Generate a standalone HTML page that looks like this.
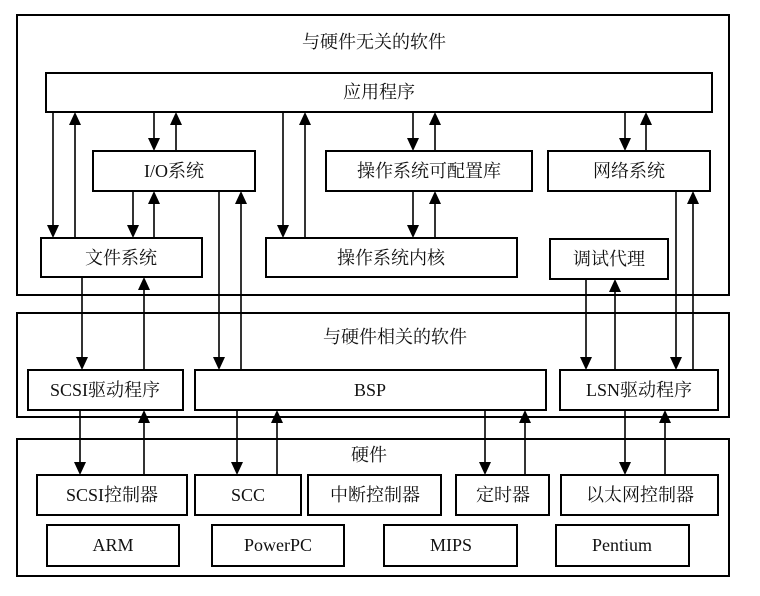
<!DOCTYPE html>
<html><head><meta charset="utf-8"><style>
html,body{margin:0;padding:0;background:#fff;}
svg text{font-family:"Liberation Serif","Noto Serif CJK SC",serif;font-size:18px;fill:#111;text-anchor:middle;dominant-baseline:central;}
</style></head><body>
<svg width="760" height="591" viewBox="0 0 760 591" xmlns="http://www.w3.org/2000/svg">
<g fill="none" stroke="#000" stroke-width="2">
<rect x="17" y="15" width="712" height="280"/>
<rect x="46" y="73" width="666" height="39"/>
<rect x="93" y="151" width="162" height="40"/>
<rect x="41" y="238" width="161" height="39"/>
<rect x="266" y="238" width="251" height="39"/>
<rect x="326" y="151" width="206" height="40"/>
<rect x="548" y="151" width="162" height="40"/>
<rect x="550" y="239" width="118" height="40"/>
<rect x="17" y="313" width="712" height="104"/>
<rect x="28" y="370" width="155" height="40"/>
<rect x="195" y="370" width="351" height="40"/>
<rect x="560" y="370" width="158" height="40"/>
<rect x="17" y="439" width="712" height="137"/>
<rect x="37" y="475" width="150" height="40"/>
<rect x="195" y="475" width="106" height="40"/>
<rect x="308" y="475" width="133" height="40"/>
<rect x="456" y="475" width="93" height="40"/>
<rect x="561" y="475" width="157" height="40"/>
<rect x="47" y="525" width="132" height="41"/>
<rect x="212" y="525" width="132" height="41"/>
<rect x="384" y="525" width="133" height="41"/>
<rect x="556" y="525" width="133" height="41"/>
</g>
<g stroke="#000" stroke-width="1.6">
<line x1="53" y1="112" x2="53" y2="228"/>
<line x1="154" y1="112" x2="154" y2="141"/>
<line x1="133" y1="191" x2="133" y2="228"/>
<line x1="283" y1="112" x2="283" y2="228"/>
<line x1="413" y1="112" x2="413" y2="141"/>
<line x1="413" y1="191" x2="413" y2="228"/>
<line x1="625" y1="112" x2="625" y2="141"/>
<line x1="82" y1="277" x2="82" y2="360"/>
<line x1="219" y1="191" x2="219" y2="360"/>
<line x1="586" y1="279" x2="586" y2="360"/>
<line x1="676" y1="191" x2="676" y2="360"/>
<line x1="80" y1="410" x2="80" y2="465"/>
<line x1="237" y1="410" x2="237" y2="465"/>
<line x1="485" y1="410" x2="485" y2="465"/>
<line x1="625" y1="410" x2="625" y2="465"/>
<line x1="75" y1="238" x2="75" y2="122"/>
<line x1="176" y1="151" x2="176" y2="122"/>
<line x1="154" y1="238" x2="154" y2="201"/>
<line x1="305" y1="238" x2="305" y2="122"/>
<line x1="435" y1="151" x2="435" y2="122"/>
<line x1="435" y1="238" x2="435" y2="201"/>
<line x1="646" y1="151" x2="646" y2="122"/>
<line x1="144" y1="370" x2="144" y2="287"/>
<line x1="241" y1="370" x2="241" y2="201"/>
<line x1="615" y1="370" x2="615" y2="289"/>
<line x1="693" y1="370" x2="693" y2="201"/>
<line x1="144" y1="475" x2="144" y2="420"/>
<line x1="277" y1="475" x2="277" y2="420"/>
<line x1="525" y1="475" x2="525" y2="420"/>
<line x1="665" y1="475" x2="665" y2="420"/>
</g>
<g fill="#000">
<!-- down heads -->
<path d="M47,225 L59,225 L53,238 z"/>
<path d="M148,138 L160,138 L154,151 z"/>
<path d="M127,225 L139,225 L133,238 z"/>
<path d="M277,225 L289,225 L283,238 z"/>
<path d="M407,138 L419,138 L413,151 z"/>
<path d="M407,225 L419,225 L413,238 z"/>
<path d="M619,138 L631,138 L625,151 z"/>
<path d="M76,357 L88,357 L82,370 z"/>
<path d="M213,357 L225,357 L219,370 z"/>
<path d="M580,357 L592,357 L586,370 z"/>
<path d="M670,357 L682,357 L676,370 z"/>
<path d="M74,462 L86,462 L80,475 z"/>
<path d="M231,462 L243,462 L237,475 z"/>
<path d="M479,462 L491,462 L485,475 z"/>
<path d="M619,462 L631,462 L625,475 z"/>
<!-- up heads -->
<path d="M69,125 L81,125 L75,112 z"/>
<path d="M170,125 L182,125 L176,112 z"/>
<path d="M148,204 L160,204 L154,191 z"/>
<path d="M299,125 L311,125 L305,112 z"/>
<path d="M429,125 L441,125 L435,112 z"/>
<path d="M429,204 L441,204 L435,191 z"/>
<path d="M640,125 L652,125 L646,112 z"/>
<path d="M138,290 L150,290 L144,277 z"/>
<path d="M235,204 L247,204 L241,191 z"/>
<path d="M609,292 L621,292 L615,279 z"/>
<path d="M687,204 L699,204 L693,191 z"/>
<path d="M138,423 L150,423 L144,410 z"/>
<path d="M271,423 L283,423 L277,410 z"/>
<path d="M519,423 L531,423 L525,410 z"/>
<path d="M659,423 L671,423 L665,410 z"/>
</g>
<text x="374" y="42">与硬件无关的软件</text>
<text x="379" y="92">应用程序</text>
<text x="174" y="171">I/O系统</text>
<text x="121" y="258">文件系统</text>
<text x="391" y="258">操作系统内核</text>
<text x="429" y="171">操作系统可配置库</text>
<text x="629" y="171">网络系统</text>
<text x="609" y="259">调试代理</text>
<text x="395" y="337">与硬件相关的软件</text>
<text x="105" y="390">SCSI驱动程序</text>
<text x="370" y="390">BSP</text>
<text x="639" y="390">LSN驱动程序</text>
<text x="369" y="455">硬件</text>
<text x="112" y="495">SCSI控制器</text>
<text x="248" y="495">SCC</text>
<text x="375" y="495">中断控制器</text>
<text x="503" y="495">定时器</text>
<text x="640" y="495">以太网控制器</text>
<text x="113" y="545">ARM</text>
<text x="278" y="545">PowerPC</text>
<text x="451" y="545">MIPS</text>
<text x="622" y="545">Pentium</text>
</svg>
</body></html>
